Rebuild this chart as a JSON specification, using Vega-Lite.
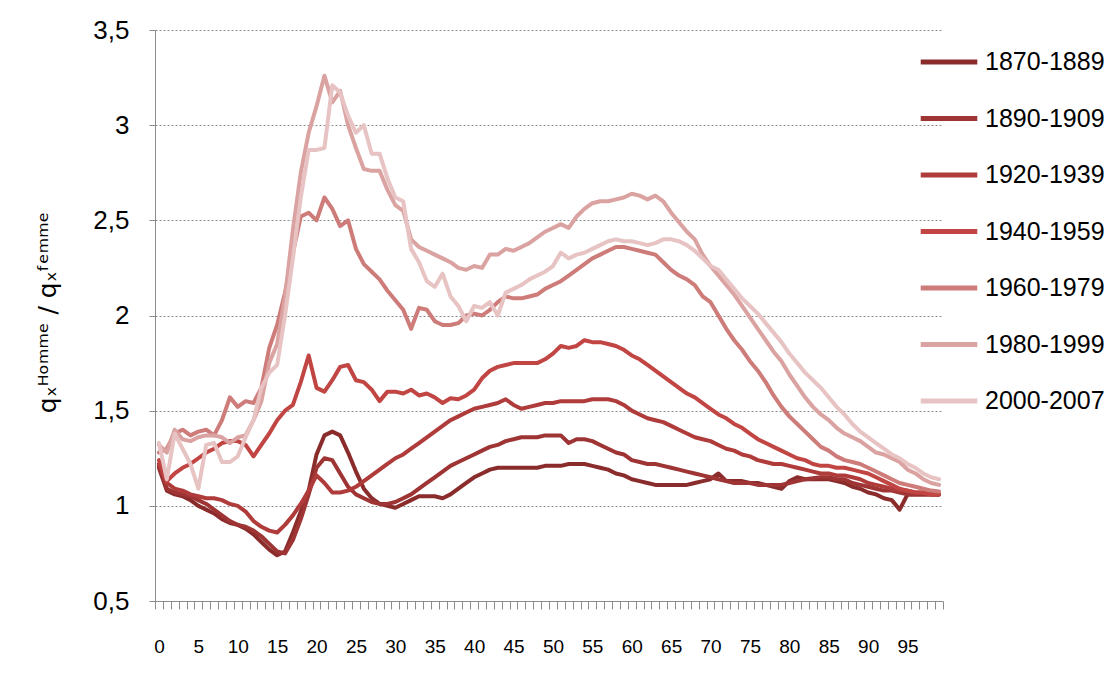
{
  "$schema": "https://vega.github.io/schema/vega-lite/v6.json",
  "width": 788,
  "height": 571,
  "autosize": {"type": "none"},
  "padding": {"left": 155, "top": 30, "right": 172, "bottom": 83},
  "background": "white",
  "config": {"view": {"stroke": null}, "font": "Liberation Sans"},
  "data": {"values": [
    {"age":0,"1870-1889":1.20,"1890-1909":1.21,"1920-1939":1.22,"1940-1959":1.24,"1960-1979":1.28,"1980-1999":1.32,"2000-2007":1.33},
    {"age":1,"1870-1889":1.08,"1890-1909":1.09,"1920-1939":1.12,"1940-1959":1.13,"1960-1979":1.30,"1980-1999":1.28,"2000-2007":1.14},
    {"age":2,"1870-1889":1.06,"1890-1909":1.07,"1920-1939":1.09,"1940-1959":1.17,"1960-1979":1.38,"1980-1999":1.40,"2000-2007":1.38},
    {"age":3,"1870-1889":1.05,"1890-1909":1.06,"1920-1939":1.08,"1940-1959":1.20,"1960-1979":1.40,"1980-1999":1.35,"2000-2007":1.30},
    {"age":4,"1870-1889":1.03,"1890-1909":1.05,"1920-1939":1.06,"1940-1959":1.22,"1960-1979":1.37,"1980-1999":1.34,"2000-2007":1.22},
    {"age":5,"1870-1889":1.00,"1890-1909":1.03,"1920-1939":1.05,"1940-1959":1.25,"1960-1979":1.39,"1980-1999":1.36,"2000-2007":1.09},
    {"age":6,"1870-1889":0.98,"1890-1909":1.01,"1920-1939":1.04,"1940-1959":1.28,"1960-1979":1.40,"1980-1999":1.37,"2000-2007":1.32},
    {"age":7,"1870-1889":0.96,"1890-1909":0.98,"1920-1939":1.04,"1940-1959":1.30,"1960-1979":1.37,"1980-1999":1.37,"2000-2007":1.33},
    {"age":8,"1870-1889":0.93,"1890-1909":0.95,"1920-1939":1.03,"1940-1959":1.33,"1960-1979":1.45,"1980-1999":1.36,"2000-2007":1.23},
    {"age":9,"1870-1889":0.91,"1890-1909":0.92,"1920-1939":1.01,"1940-1959":1.34,"1960-1979":1.57,"1980-1999":1.33,"2000-2007":1.23},
    {"age":10,"1870-1889":0.90,"1890-1909":0.90,"1920-1939":1.00,"1940-1959":1.34,"1960-1979":1.52,"1980-1999":1.36,"2000-2007":1.26},
    {"age":11,"1870-1889":0.88,"1890-1909":0.89,"1920-1939":0.97,"1940-1959":1.32,"1960-1979":1.55,"1980-1999":1.37,"2000-2007":1.36},
    {"age":12,"1870-1889":0.85,"1890-1909":0.87,"1920-1939":0.92,"1940-1959":1.26,"1960-1979":1.54,"1980-1999":1.45,"2000-2007":1.45},
    {"age":13,"1870-1889":0.81,"1890-1909":0.84,"1920-1939":0.89,"1940-1959":1.32,"1960-1979":1.62,"1980-1999":1.55,"2000-2007":1.62},
    {"age":14,"1870-1889":0.77,"1890-1909":0.80,"1920-1939":0.87,"1940-1959":1.38,"1960-1979":1.83,"1980-1999":1.75,"2000-2007":1.70},
    {"age":15,"1870-1889":0.74,"1890-1909":0.76,"1920-1939":0.86,"1940-1959":1.45,"1960-1979":1.95,"1980-1999":1.85,"2000-2007":1.74},
    {"age":16,"1870-1889":0.76,"1890-1909":0.75,"1920-1939":0.90,"1940-1959":1.50,"1960-1979":2.12,"1980-1999":2.10,"2000-2007":2.00},
    {"age":17,"1870-1889":0.86,"1890-1909":0.82,"1920-1939":0.95,"1940-1959":1.53,"1960-1979":2.33,"1980-1999":2.45,"2000-2007":2.30},
    {"age":18,"1870-1889":0.97,"1890-1909":0.93,"1920-1939":1.01,"1940-1959":1.65,"1960-1979":2.52,"1980-1999":2.75,"2000-2007":2.62},
    {"age":19,"1870-1889":1.08,"1890-1909":1.06,"1920-1939":1.08,"1940-1959":1.79,"1960-1979":2.54,"1980-1999":2.96,"2000-2007":2.87},
    {"age":20,"1870-1889":1.27,"1890-1909":1.20,"1920-1939":1.16,"1940-1959":1.62,"1960-1979":2.50,"1980-1999":3.10,"2000-2007":2.87},
    {"age":21,"1870-1889":1.37,"1890-1909":1.25,"1920-1939":1.12,"1940-1959":1.60,"1960-1979":2.62,"1980-1999":3.26,"2000-2007":2.88},
    {"age":22,"1870-1889":1.39,"1890-1909":1.24,"1920-1939":1.07,"1940-1959":1.66,"1960-1979":2.56,"1980-1999":3.12,"2000-2007":3.21},
    {"age":23,"1870-1889":1.37,"1890-1909":1.17,"1920-1939":1.07,"1940-1959":1.73,"1960-1979":2.47,"1980-1999":3.18,"2000-2007":3.17},
    {"age":24,"1870-1889":1.28,"1890-1909":1.10,"1920-1939":1.08,"1940-1959":1.74,"1960-1979":2.50,"1980-1999":3.00,"2000-2007":3.05},
    {"age":25,"1870-1889":1.18,"1890-1909":1.06,"1920-1939":1.10,"1940-1959":1.66,"1960-1979":2.35,"1980-1999":2.88,"2000-2007":2.96},
    {"age":26,"1870-1889":1.09,"1890-1909":1.04,"1920-1939":1.13,"1940-1959":1.65,"1960-1979":2.27,"1980-1999":2.77,"2000-2007":3.00},
    {"age":27,"1870-1889":1.04,"1890-1909":1.02,"1920-1939":1.16,"1940-1959":1.61,"1960-1979":2.23,"1980-1999":2.76,"2000-2007":2.85},
    {"age":28,"1870-1889":1.01,"1890-1909":1.01,"1920-1939":1.19,"1940-1959":1.55,"1960-1979":2.19,"1980-1999":2.76,"2000-2007":2.85},
    {"age":29,"1870-1889":1.00,"1890-1909":1.01,"1920-1939":1.22,"1940-1959":1.60,"1960-1979":2.13,"1980-1999":2.66,"2000-2007":2.72},
    {"age":30,"1870-1889":0.99,"1890-1909":1.02,"1920-1939":1.25,"1940-1959":1.60,"1960-1979":2.08,"1980-1999":2.58,"2000-2007":2.62},
    {"age":31,"1870-1889":1.01,"1890-1909":1.04,"1920-1939":1.27,"1940-1959":1.59,"1960-1979":2.03,"1980-1999":2.55,"2000-2007":2.60},
    {"age":32,"1870-1889":1.03,"1890-1909":1.06,"1920-1939":1.30,"1940-1959":1.61,"1960-1979":1.93,"1980-1999":2.40,"2000-2007":2.35},
    {"age":33,"1870-1889":1.05,"1890-1909":1.09,"1920-1939":1.33,"1940-1959":1.58,"1960-1979":2.04,"1980-1999":2.36,"2000-2007":2.28},
    {"age":34,"1870-1889":1.05,"1890-1909":1.12,"1920-1939":1.36,"1940-1959":1.59,"1960-1979":2.03,"1980-1999":2.34,"2000-2007":2.18},
    {"age":35,"1870-1889":1.05,"1890-1909":1.15,"1920-1939":1.39,"1940-1959":1.57,"1960-1979":1.97,"1980-1999":2.32,"2000-2007":2.15},
    {"age":36,"1870-1889":1.04,"1890-1909":1.18,"1920-1939":1.42,"1940-1959":1.54,"1960-1979":1.95,"1980-1999":2.30,"2000-2007":2.22},
    {"age":37,"1870-1889":1.06,"1890-1909":1.21,"1920-1939":1.45,"1940-1959":1.565,"1960-1979":1.95,"1980-1999":2.28,"2000-2007":2.10},
    {"age":38,"1870-1889":1.09,"1890-1909":1.23,"1920-1939":1.47,"1940-1959":1.56,"1960-1979":1.96,"1980-1999":2.25,"2000-2007":2.05},
    {"age":39,"1870-1889":1.12,"1890-1909":1.25,"1920-1939":1.49,"1940-1959":1.58,"1960-1979":2.00,"1980-1999":2.24,"2000-2007":1.97},
    {"age":40,"1870-1889":1.15,"1890-1909":1.27,"1920-1939":1.51,"1940-1959":1.61,"1960-1979":2.01,"1980-1999":2.26,"2000-2007":2.05},
    {"age":41,"1870-1889":1.17,"1890-1909":1.29,"1920-1939":1.52,"1940-1959":1.67,"1960-1979":2.00,"1980-1999":2.25,"2000-2007":2.04},
    {"age":42,"1870-1889":1.19,"1890-1909":1.31,"1920-1939":1.53,"1940-1959":1.71,"1960-1979":2.03,"1980-1999":2.32,"2000-2007":2.07},
    {"age":43,"1870-1889":1.20,"1890-1909":1.32,"1920-1939":1.54,"1940-1959":1.73,"1960-1979":2.07,"1980-1999":2.32,"2000-2007":2.00},
    {"age":44,"1870-1889":1.20,"1890-1909":1.34,"1920-1939":1.56,"1940-1959":1.74,"1960-1979":2.10,"1980-1999":2.35,"2000-2007":2.12},
    {"age":45,"1870-1889":1.20,"1890-1909":1.35,"1920-1939":1.53,"1940-1959":1.75,"1960-1979":2.09,"1980-1999":2.34,"2000-2007":2.14},
    {"age":46,"1870-1889":1.20,"1890-1909":1.36,"1920-1939":1.51,"1940-1959":1.75,"1960-1979":2.09,"1980-1999":2.36,"2000-2007":2.16},
    {"age":47,"1870-1889":1.20,"1890-1909":1.36,"1920-1939":1.52,"1940-1959":1.75,"1960-1979":2.10,"1980-1999":2.38,"2000-2007":2.19},
    {"age":48,"1870-1889":1.20,"1890-1909":1.36,"1920-1939":1.53,"1940-1959":1.75,"1960-1979":2.11,"1980-1999":2.41,"2000-2007":2.21},
    {"age":49,"1870-1889":1.21,"1890-1909":1.37,"1920-1939":1.54,"1940-1959":1.77,"1960-1979":2.14,"1980-1999":2.44,"2000-2007":2.23},
    {"age":50,"1870-1889":1.21,"1890-1909":1.37,"1920-1939":1.54,"1940-1959":1.80,"1960-1979":2.16,"1980-1999":2.46,"2000-2007":2.26},
    {"age":51,"1870-1889":1.21,"1890-1909":1.37,"1920-1939":1.55,"1940-1959":1.84,"1960-1979":2.18,"1980-1999":2.48,"2000-2007":2.33},
    {"age":52,"1870-1889":1.22,"1890-1909":1.33,"1920-1939":1.55,"1940-1959":1.83,"1960-1979":2.21,"1980-1999":2.46,"2000-2007":2.30},
    {"age":53,"1870-1889":1.22,"1890-1909":1.35,"1920-1939":1.55,"1940-1959":1.84,"1960-1979":2.24,"1980-1999":2.52,"2000-2007":2.32},
    {"age":54,"1870-1889":1.22,"1890-1909":1.35,"1920-1939":1.55,"1940-1959":1.87,"1960-1979":2.27,"1980-1999":2.56,"2000-2007":2.33},
    {"age":55,"1870-1889":1.21,"1890-1909":1.34,"1920-1939":1.56,"1940-1959":1.86,"1960-1979":2.30,"1980-1999":2.59,"2000-2007":2.35},
    {"age":56,"1870-1889":1.20,"1890-1909":1.32,"1920-1939":1.56,"1940-1959":1.86,"1960-1979":2.32,"1980-1999":2.60,"2000-2007":2.37},
    {"age":57,"1870-1889":1.19,"1890-1909":1.30,"1920-1939":1.56,"1940-1959":1.85,"1960-1979":2.34,"1980-1999":2.60,"2000-2007":2.39},
    {"age":58,"1870-1889":1.17,"1890-1909":1.28,"1920-1939":1.55,"1940-1959":1.84,"1960-1979":2.36,"1980-1999":2.61,"2000-2007":2.40},
    {"age":59,"1870-1889":1.16,"1890-1909":1.27,"1920-1939":1.53,"1940-1959":1.82,"1960-1979":2.36,"1980-1999":2.62,"2000-2007":2.39},
    {"age":60,"1870-1889":1.14,"1890-1909":1.24,"1920-1939":1.50,"1940-1959":1.79,"1960-1979":2.35,"1980-1999":2.64,"2000-2007":2.39},
    {"age":61,"1870-1889":1.13,"1890-1909":1.23,"1920-1939":1.48,"1940-1959":1.77,"1960-1979":2.34,"1980-1999":2.63,"2000-2007":2.38},
    {"age":62,"1870-1889":1.12,"1890-1909":1.22,"1920-1939":1.46,"1940-1959":1.74,"1960-1979":2.33,"1980-1999":2.61,"2000-2007":2.37},
    {"age":63,"1870-1889":1.11,"1890-1909":1.22,"1920-1939":1.45,"1940-1959":1.71,"1960-1979":2.32,"1980-1999":2.63,"2000-2007":2.38},
    {"age":64,"1870-1889":1.11,"1890-1909":1.21,"1920-1939":1.44,"1940-1959":1.68,"1960-1979":2.28,"1980-1999":2.60,"2000-2007":2.40},
    {"age":65,"1870-1889":1.11,"1890-1909":1.20,"1920-1939":1.42,"1940-1959":1.65,"1960-1979":2.24,"1980-1999":2.54,"2000-2007":2.40},
    {"age":66,"1870-1889":1.11,"1890-1909":1.19,"1920-1939":1.40,"1940-1959":1.62,"1960-1979":2.21,"1980-1999":2.49,"2000-2007":2.39},
    {"age":67,"1870-1889":1.11,"1890-1909":1.18,"1920-1939":1.38,"1940-1959":1.59,"1960-1979":2.19,"1980-1999":2.44,"2000-2007":2.37},
    {"age":68,"1870-1889":1.12,"1890-1909":1.17,"1920-1939":1.36,"1940-1959":1.57,"1960-1979":2.16,"1980-1999":2.40,"2000-2007":2.34},
    {"age":69,"1870-1889":1.13,"1890-1909":1.16,"1920-1939":1.35,"1940-1959":1.54,"1960-1979":2.10,"1980-1999":2.32,"2000-2007":2.30},
    {"age":70,"1870-1889":1.14,"1890-1909":1.15,"1920-1939":1.34,"1940-1959":1.51,"1960-1979":2.07,"1980-1999":2.26,"2000-2007":2.26},
    {"age":71,"1870-1889":1.17,"1890-1909":1.14,"1920-1939":1.32,"1940-1959":1.48,"1960-1979":2.00,"1980-1999":2.21,"2000-2007":2.24},
    {"age":72,"1870-1889":1.13,"1890-1909":1.13,"1920-1939":1.30,"1940-1959":1.46,"1960-1979":1.93,"1980-1999":2.16,"2000-2007":2.19},
    {"age":73,"1870-1889":1.13,"1890-1909":1.12,"1920-1939":1.29,"1940-1959":1.43,"1960-1979":1.87,"1980-1999":2.11,"2000-2007":2.14},
    {"age":74,"1870-1889":1.13,"1890-1909":1.12,"1920-1939":1.27,"1940-1959":1.41,"1960-1979":1.82,"1980-1999":2.05,"2000-2007":2.09},
    {"age":75,"1870-1889":1.12,"1890-1909":1.12,"1920-1939":1.26,"1940-1959":1.38,"1960-1979":1.76,"1980-1999":1.99,"2000-2007":2.05},
    {"age":76,"1870-1889":1.12,"1890-1909":1.11,"1920-1939":1.24,"1940-1959":1.35,"1960-1979":1.71,"1980-1999":1.93,"2000-2007":2.01},
    {"age":77,"1870-1889":1.11,"1890-1909":1.11,"1920-1939":1.23,"1940-1959":1.33,"1960-1979":1.65,"1980-1999":1.87,"2000-2007":1.96},
    {"age":78,"1870-1889":1.10,"1890-1909":1.11,"1920-1939":1.22,"1940-1959":1.31,"1960-1979":1.58,"1980-1999":1.81,"2000-2007":1.91},
    {"age":79,"1870-1889":1.09,"1890-1909":1.11,"1920-1939":1.22,"1940-1959":1.29,"1960-1979":1.52,"1980-1999":1.76,"2000-2007":1.86},
    {"age":80,"1870-1889":1.13,"1890-1909":1.12,"1920-1939":1.21,"1940-1959":1.27,"1960-1979":1.47,"1980-1999":1.69,"2000-2007":1.80},
    {"age":81,"1870-1889":1.15,"1890-1909":1.13,"1920-1939":1.20,"1940-1959":1.25,"1960-1979":1.43,"1980-1999":1.63,"2000-2007":1.75},
    {"age":82,"1870-1889":1.14,"1890-1909":1.14,"1920-1939":1.19,"1940-1959":1.24,"1960-1979":1.39,"1980-1999":1.57,"2000-2007":1.70},
    {"age":83,"1870-1889":1.14,"1890-1909":1.145,"1920-1939":1.18,"1940-1959":1.22,"1960-1979":1.35,"1980-1999":1.52,"2000-2007":1.66},
    {"age":84,"1870-1889":1.14,"1890-1909":1.15,"1920-1939":1.17,"1940-1959":1.21,"1960-1979":1.31,"1980-1999":1.48,"2000-2007":1.62},
    {"age":85,"1870-1889":1.14,"1890-1909":1.15,"1920-1939":1.17,"1940-1959":1.21,"1960-1979":1.29,"1980-1999":1.45,"2000-2007":1.57},
    {"age":86,"1870-1889":1.13,"1890-1909":1.14,"1920-1939":1.16,"1940-1959":1.20,"1960-1979":1.26,"1980-1999":1.41,"2000-2007":1.52},
    {"age":87,"1870-1889":1.12,"1890-1909":1.14,"1920-1939":1.16,"1940-1959":1.20,"1960-1979":1.24,"1980-1999":1.38,"2000-2007":1.48},
    {"age":88,"1870-1889":1.10,"1890-1909":1.12,"1920-1939":1.15,"1940-1959":1.19,"1960-1979":1.23,"1980-1999":1.36,"2000-2007":1.43},
    {"age":89,"1870-1889":1.09,"1890-1909":1.11,"1920-1939":1.14,"1940-1959":1.18,"1960-1979":1.22,"1980-1999":1.34,"2000-2007":1.39},
    {"age":90,"1870-1889":1.07,"1890-1909":1.10,"1920-1939":1.12,"1940-1959":1.17,"1960-1979":1.20,"1980-1999":1.31,"2000-2007":1.36},
    {"age":91,"1870-1889":1.06,"1890-1909":1.09,"1920-1939":1.11,"1940-1959":1.15,"1960-1979":1.18,"1980-1999":1.28,"2000-2007":1.33},
    {"age":92,"1870-1889":1.04,"1890-1909":1.08,"1920-1939":1.10,"1940-1959":1.13,"1960-1979":1.16,"1980-1999":1.27,"2000-2007":1.30},
    {"age":93,"1870-1889":1.03,"1890-1909":1.08,"1920-1939":1.09,"1940-1959":1.11,"1960-1979":1.14,"1980-1999":1.25,"2000-2007":1.27},
    {"age":94,"1870-1889":0.98,"1890-1909":1.07,"1920-1939":1.08,"1940-1959":1.09,"1960-1979":1.12,"1980-1999":1.23,"2000-2007":1.25},
    {"age":95,"1870-1889":1.06,"1890-1909":1.06,"1920-1939":1.08,"1940-1959":1.08,"1960-1979":1.11,"1980-1999":1.19,"2000-2007":1.22},
    {"age":96,"1870-1889":1.06,"1890-1909":1.06,"1920-1939":1.07,"1940-1959":1.07,"1960-1979":1.10,"1980-1999":1.17,"2000-2007":1.20},
    {"age":97,"1870-1889":1.06,"1890-1909":1.06,"1920-1939":1.07,"1940-1959":1.07,"1960-1979":1.09,"1980-1999":1.14,"2000-2007":1.17},
    {"age":98,"1870-1889":1.06,"1890-1909":1.06,"1920-1939":1.06,"1940-1959":1.06,"1960-1979":1.08,"1980-1999":1.12,"2000-2007":1.15},
    {"age":99,"1870-1889":1.06,"1890-1909":1.06,"1920-1939":1.06,"1940-1959":1.06,"1960-1979":1.075,"1980-1999":1.11,"2000-2007":1.14}
  ]},
  "transform": [
    {"fold": ["1870-1889", "1890-1909", "1920-1939", "1940-1959", "1960-1979", "1980-1999", "2000-2007"], "as": ["periode", "ratio"]}
  ],
  "mark": {"type": "line", "strokeWidth": 4, "strokeJoin": "round", "strokeCap": "round"},
  "encoding": {
    "x": {
      "field": "age", "type": "quantitative",
      "scale": {"domain": [-0.5, 99.5], "nice": false, "zero": false},
      "axis": {
        "title": null,
        "values": [-0.5,0.5,1.5,2.5,3.5,4.5,5.5,6.5,7.5,8.5,9.5,10.5,11.5,12.5,13.5,14.5,15.5,16.5,17.5,18.5,19.5,20.5,21.5,22.5,23.5,24.5,25.5,26.5,27.5,28.5,29.5,30.5,31.5,32.5,33.5,34.5,35.5,36.5,37.5,38.5,39.5,40.5,41.5,42.5,43.5,44.5,45.5,46.5,47.5,48.5,49.5,50.5,51.5,52.5,53.5,54.5,55.5,56.5,57.5,58.5,59.5,60.5,61.5,62.5,63.5,64.5,65.5,66.5,67.5,68.5,69.5,70.5,71.5,72.5,73.5,74.5,75.5,76.5,77.5,78.5,79.5,80.5,81.5,82.5,83.5,84.5,85.5,86.5,87.5,88.5,89.5,90.5,91.5,92.5,93.5,94.5,95.5,96.5,97.5,98.5,99.5],
        "labelExpr": "(datum.value + 0.5) % 5 == 0 && datum.value < 95 ? format(datum.value + 0.5, 'd') : ''",
        "labelOffset": 3.94,
        "labelOverlap": false,
        "labelFlush": false,
        "labelBound": false,
        "grid": false,
        "domainColor": "#8c8c8c",
        "tickColor": "#8c8c8c",
        "tickSize": 8,
        "labelPadding": 28,
        "labelFontSize": 19,
        "labelColor": "#000000",
        "labelFont": "Liberation Sans"
      }
    },
    "y": {
      "field": "ratio", "type": "quantitative",
      "scale": {"domain": [0.5, 3.5], "nice": false, "zero": false},
      "axis": {
        "values": [0.5, 1, 1.5, 2, 2.5, 3, 3.5],
        "labelExpr": "replace(format(datum.value, '~g'), '.', ',')",
        "grid": true,
        "gridDash": [2, 2],
        "gridColor": "#8c8c8c",
        "domainColor": "#8c8c8c",
        "tickColor": "#8c8c8c",
        "tickSize": 6,
        "labelPadding": 20,
        "labelFontSize": 26,
        "labelColor": "#000000",
        "labelFont": "Liberation Sans",
        "title": "qₓᴴᵒᵐᵐᵉ / qₓᶠᵉᵐᵐᵉ",
        "titleFont": "DejaVu Sans",
        "titleFontSize": 25,
        "titleFontWeight": "normal",
        "titleColor": "#000000",
        "titleX": -108,
        "titleY": 282,
        "titleAngle": -90,
        "titleAlign": "center",
        "titleBaseline": "middle"
      }
    },
    "color": {
      "field": "periode", "type": "nominal",
      "scale": {
        "domain": ["1870-1889", "1890-1909", "1920-1939", "1940-1959", "1960-1979", "1980-1999", "2000-2007"],
        "range": ["#8b2c2c", "#9e3434", "#b03b3b", "#c14543", "#cd7c7a", "#daa2a1", "#e7c3c3"]
      },
      "legend": {
        "orient": "none",
        "legendX": 763,
        "legendY": 1,
        "title": null,
        "symbolType": "stroke",
        "symbolSize": 3200,
        "symbolStrokeWidth": 5,
        "labelFontSize": 25,
        "labelFont": "Liberation Sans",
        "labelColor": "#000000",
        "rowPadding": 12.5,
        "labelOffset": 5,
        "padding": 0,
        "labelLimit": 300
      }
    }
  }
}
